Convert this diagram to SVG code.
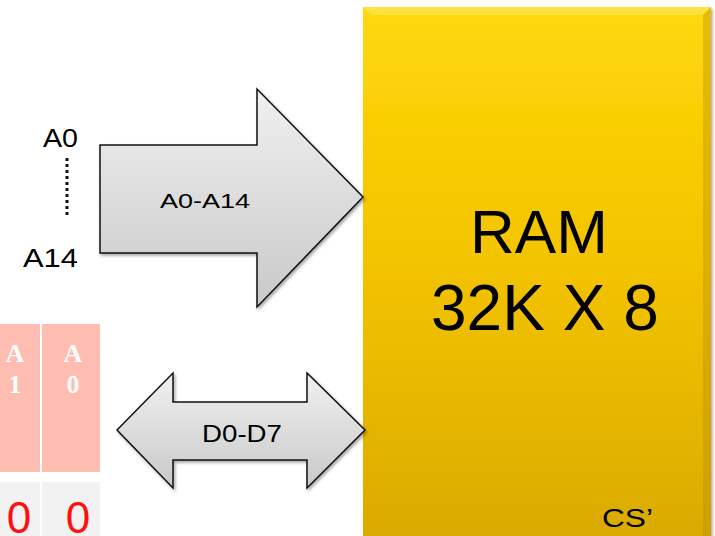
<svg xmlns="http://www.w3.org/2000/svg" width="715" height="536" viewBox="0 0 715 536">
<defs>
<linearGradient id="gold" x1="0" y1="0" x2="0" y2="1">
<stop offset="0" stop-color="#FFD80A"/>
<stop offset="0.5" stop-color="#F2C200"/>
<stop offset="1" stop-color="#D9AA00"/>
</linearGradient>
<linearGradient id="grey" x1="0" y1="0" x2="0" y2="1">
<stop offset="0" stop-color="#F0F0F0"/>
<stop offset="1" stop-color="#C9C9C9"/>
</linearGradient>
<filter id="sh" x="-10%" y="-10%" width="120%" height="120%">
<feDropShadow dx="1.5" dy="2" stdDeviation="1.5" flood-color="#000" flood-opacity="0.35"/>
</filter>
</defs>
<style>
.lbl{font-family:"Liberation Sans",Arial,sans-serif;fill:#000}
.arrow{fill:url(#grey);stroke:#111;stroke-width:1.5;stroke-linejoin:miter;filter:url(#sh)}
.cellA{fill:#FFBCB0}
.cellB{fill:#F2F2F2}
.ctext{font-family:"Liberation Serif","DejaVu Serif",serif;font-weight:bold;font-size:26px;fill:#fff;text-anchor:middle}
.zero{font-family:"Liberation Sans",Arial,sans-serif;font-size:44px;fill:#FF1010;text-anchor:middle}
</style>
<rect width="715" height="536" fill="#fff"/>

<g id="ram">
<rect x="363" y="7" width="348" height="540" fill="url(#gold)" filter="url(#sh)"/>
<path d="M363 7 H711 L703 15 H371 Z" fill="#FFE860" opacity="0.6"/>
<path d="M711 7 V536 H703 V15 Z" fill="#B58A00" opacity="0.35"/>
<text class="lbl" x="470" y="253" font-size="62">RAM</text>
<text class="lbl" x="431" y="330" font-size="64">32K X 8</text>
<text class="lbl" x="602" y="527" font-size="25" textLength="51" lengthAdjust="spacingAndGlyphs">CS’</text>
</g>

<g id="addr-labels">
<text class="lbl" x="43" y="147" font-size="26" textLength="35" lengthAdjust="spacingAndGlyphs">A0</text>
<line x1="67" y1="158" x2="67" y2="218" stroke="#111" stroke-width="3" stroke-dasharray="3,3"/>
<text class="lbl" x="23" y="267" font-size="26" textLength="55" lengthAdjust="spacingAndGlyphs">A14</text>
</g>

<g id="table">
<rect class="cellA" x="0" y="324" width="40" height="148"/>
<rect class="cellA" x="42" y="324" width="58" height="148"/>
<rect class="cellB" x="0" y="482" width="40" height="60"/>
<rect class="cellB" x="42" y="482" width="58" height="60"/>
<text class="ctext" x="15" y="362">A</text>
<text class="ctext" x="15" y="393">1</text>
<text class="ctext" x="73" y="362">A</text>
<text class="ctext" x="73" y="393">0</text>
<text class="zero" x="19" y="533">0</text>
<text class="zero" x="78" y="533">0</text>
</g>

<g id="connectors">
<g id="addr-bus">
<path class="arrow" d="M100 145 H257 V89 L363 197 L257 307 V253 H100 Z"/>
<text class="lbl" x="160" y="208" font-size="21" textLength="90" lengthAdjust="spacingAndGlyphs">A0-A14</text>
</g>
<g id="data-bus">
<path class="arrow" d="M117 430 L173 373 V402 H307 V373 L365 430 L307 488 V460 H173 V488 Z"/>
<text class="lbl" x="202" y="442" font-size="23" textLength="80" lengthAdjust="spacingAndGlyphs">D0-D7</text>
</g>
</g>
</svg>
